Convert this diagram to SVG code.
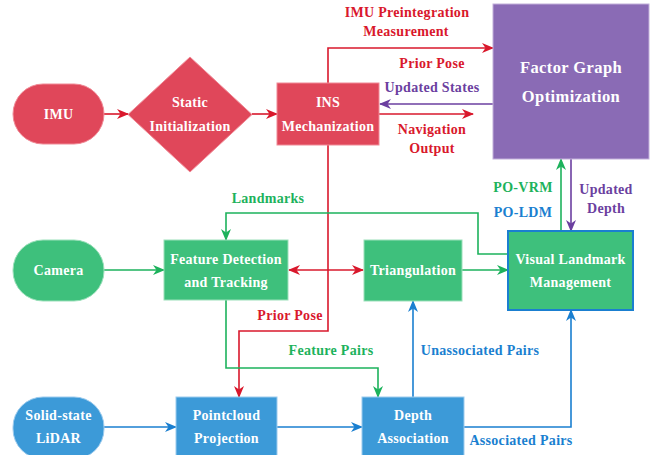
<svg xmlns="http://www.w3.org/2000/svg" width="662" height="455" viewBox="0 0 662 455">
  <style>
    text { font-family: "Liberation Serif", "Times New Roman", serif; font-weight: bold; font-size: 14px; letter-spacing: 0.3px; text-anchor: middle; }
    .big { font-size: 16.5px; letter-spacing: 0.4px; }
    .nt { fill: #ffffff; }
    .red { fill: #E0475A; stroke: #F08A96; stroke-width: 1; }
    .pur { fill: #8A6BB5; stroke: #C2B0DA; stroke-width: 1; }
    .grn { fill: #3EC07C; stroke: #9BE0BA; stroke-width: 1; }
    .blu { fill: #3C9AD8; stroke: #9CCBEE; stroke-width: 1; }
    .vlm { fill: #3EC07C; stroke: #1A7FD0; stroke-width: 2; }
    .c { fill: none; stroke-width: 1.6; }
    .cr { stroke: #D9182C; }
    .cg { stroke: #1DB25C; }
    .cb { stroke: #1A7FD0; }
    .cp { stroke: #6B3FA0; }
    .lr { fill: #D9182C; }
    .lg { fill: #1DB25C; }
    .lb { fill: #1A7FD0; }
    .lp { fill: #6B3FA0; }
  </style>
  <defs>
    <marker id="ar" viewBox="0 0 12 10" refX="11" refY="5" markerWidth="12" markerHeight="10" markerUnits="userSpaceOnUse" orient="auto-start-reverse">
      <path d="M0,0 L12,5 L0,10 L3.5,5 z" fill="#D9182C"/>
    </marker>
    <marker id="ag" viewBox="0 0 12 10" refX="11" refY="5" markerWidth="12" markerHeight="10" markerUnits="userSpaceOnUse" orient="auto-start-reverse">
      <path d="M0,0 L12,5 L0,10 L3.5,5 z" fill="#1DB25C"/>
    </marker>
    <marker id="ab" viewBox="0 0 12 10" refX="11" refY="5" markerWidth="12" markerHeight="10" markerUnits="userSpaceOnUse" orient="auto-start-reverse">
      <path d="M0,0 L12,5 L0,10 L3.5,5 z" fill="#1A7FD0"/>
    </marker>
    <marker id="ap" viewBox="0 0 12 10" refX="11" refY="5" markerWidth="12" markerHeight="10" markerUnits="userSpaceOnUse" orient="auto-start-reverse">
      <path d="M0,0 L12,5 L0,10 L3.5,5 z" fill="#6B3FA0"/>
    </marker>
  </defs>

  <rect width="662" height="455" fill="#ffffff"/>

  <!-- connectors -->
  <g id="connectors">
    <path class="c cr" d="M104,114 H128" marker-end="url(#ar)"/>
    <path class="c cr" d="M252,114 H277" marker-end="url(#ar)"/>
    <path class="c cr" d="M328,83 V48 H493" marker-end="url(#ar)"/>
    <path class="c cp" d="M493,104 H380" marker-end="url(#ap)"/>
    <path class="c cr" d="M379,114 H473" marker-end="url(#ar)"/>
    <path class="c cr" d="M328,145 V331 H239 V397" marker-end="url(#ar)"/>
    <path class="c cg" d="M508,254 H478 V213 H226 V240" marker-end="url(#ag)"/>
    <path class="c cr" d="M289,270 H363" marker-start="url(#ar)" marker-end="url(#ar)"/>
    <path class="c cg" d="M104,270 H164" marker-end="url(#ag)"/>
    <path class="c cg" d="M462,270 H508" marker-end="url(#ag)"/>
    <path class="c cg" d="M561,231 V159" marker-end="url(#ag)"/>
    <path class="c cp" d="M571,159 V231" marker-end="url(#ap)"/>
    <path class="c cg" d="M226,300 V368 H378 V397" marker-end="url(#ag)"/>
    <path class="c cb" d="M104,427 H176" marker-end="url(#ab)"/>
    <path class="c cb" d="M277,427 H362" marker-end="url(#ab)"/>
    <path class="c cb" d="M413,397 V301" marker-end="url(#ab)"/>
    <path class="c cb" d="M464,427 H571 V310" marker-end="url(#ab)"/>
  </g>

  <!-- connector labels -->
  <g id="labels">
    <text class="lr" x="407" y="17">IMU Preintegration</text>
    <text class="lr" x="406" y="36">Measurement</text>
    <text class="lr" x="432" y="68">Prior Pose</text>
    <text class="lp" x="432" y="92">Updated States</text>
    <text class="lr" x="432" y="134">Navigation</text>
    <text class="lr" x="432" y="153">Output</text>
    <text class="lg" x="268" y="203">Landmarks</text>
    <text class="lg" x="523" y="192">PO-VRM</text>
    <text class="lb" x="523" y="217">PO-LDM</text>
    <text class="lp" x="606" y="194">Updated</text>
    <text class="lp" x="606" y="213">Depth</text>
    <text class="lr" x="290" y="320">Prior Pose</text>
    <text class="lg" x="331" y="355">Feature Pairs</text>
    <text class="lb" x="480" y="355">Unassociated Pairs</text>
    <text class="lb" x="521" y="445">Associated Pairs</text>
  </g>

  <!-- nodes -->
  <g id="imu">
    <rect class="red" x="13" y="84" width="91" height="60" rx="30" ry="30"/>
    <text class="nt" x="58.5" y="119">IMU</text>
  </g>
  <g id="static-init">
    <polygon class="red" points="190,57 252,114.5 190,172 128,114.5"/>
    <text class="nt" x="190" y="107">Static</text>
    <text class="nt" x="190" y="131">Initialization</text>
  </g>
  <g id="ins">
    <rect class="red" x="277" y="83" width="102" height="62"/>
    <text class="nt" x="328" y="107">INS</text>
    <text class="nt" x="328" y="131">Mechanization</text>
  </g>
  <g id="fgo">
    <rect class="pur" x="493" y="4" width="156" height="155"/>
    <text class="nt big" x="571" y="73">Factor Graph</text>
    <text class="nt big" x="571" y="102">Optimization</text>
  </g>
  <g id="camera">
    <rect class="grn" x="13" y="240" width="91" height="61" rx="30" ry="30"/>
    <text class="nt" x="58.5" y="275">Camera</text>
  </g>
  <g id="feature">
    <rect class="grn" x="164" y="240" width="124" height="60"/>
    <text class="nt" x="226" y="264">Feature Detection</text>
    <text class="nt" x="226" y="287">and Tracking</text>
  </g>
  <g id="triangulation">
    <rect class="grn" x="364" y="240" width="98" height="61"/>
    <text class="nt" x="413" y="275">Triangulation</text>
  </g>
  <g id="vlm">
    <rect class="vlm" x="508" y="231" width="125" height="79"/>
    <text class="nt" x="570.5" y="264">Visual Landmark</text>
    <text class="nt" x="570.5" y="287">Management</text>
  </g>
  <g id="lidar">
    <rect class="blu" x="13" y="397" width="91" height="62" rx="30" ry="30"/>
    <text class="nt" x="58.5" y="420">Solid-state</text>
    <text class="nt" x="58.5" y="443">LiDAR</text>
  </g>
  <g id="pointcloud">
    <rect class="blu" x="176" y="397" width="101" height="62"/>
    <text class="nt" x="226.5" y="420">Pointcloud</text>
    <text class="nt" x="226.5" y="443">Projection</text>
  </g>
  <g id="depth">
    <rect class="blu" x="362" y="397" width="102" height="62"/>
    <text class="nt" x="413" y="420">Depth</text>
    <text class="nt" x="413" y="443">Association</text>
  </g>
</svg>
